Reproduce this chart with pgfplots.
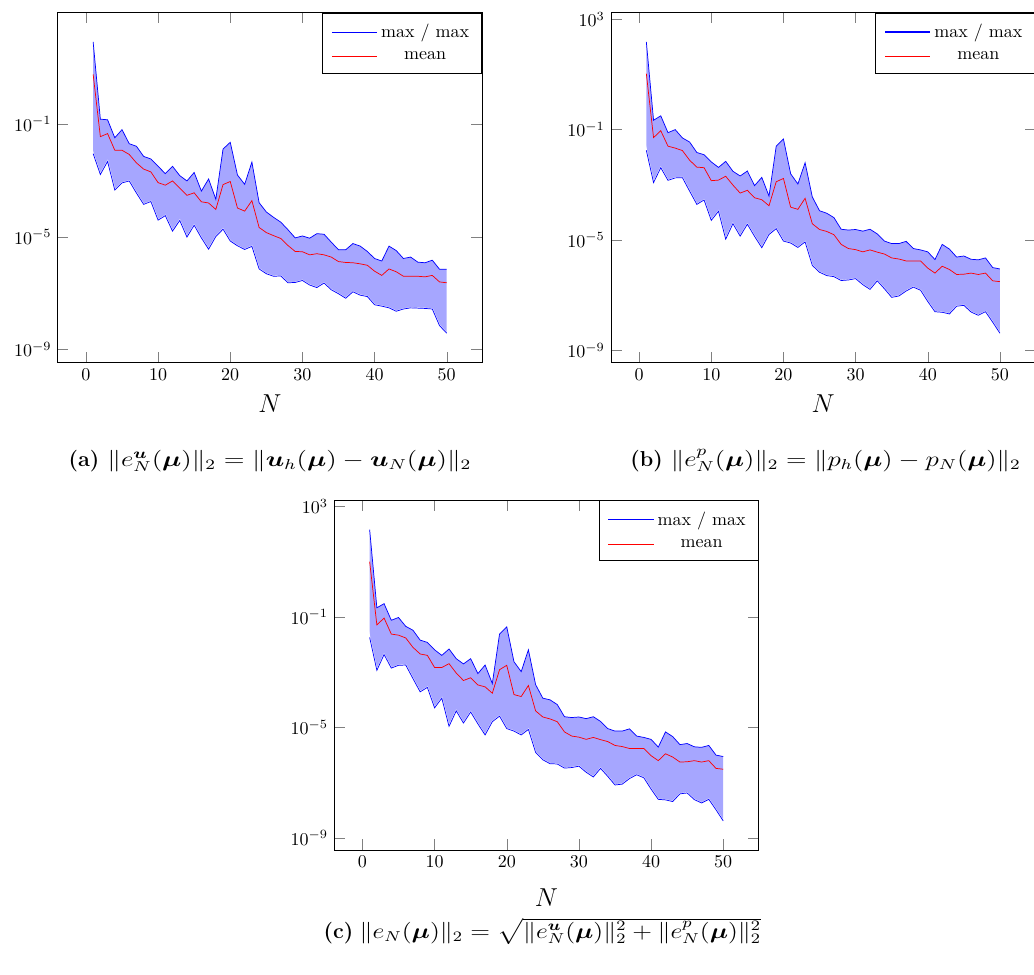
\documentclass[border=0pt]{standalone}
\usepackage{graphicx}
\usepackage{pgfplots}
\pgfplotsset{compat=1.18}
\usepackage{pgfplotstable}
\usepackage{amsmath}
\usepackage{bm}

\pgfplotstableread{
n up mean lo
1 8.13e1 5.75e0 8.91e-3
2 1.48e-1 3.55e-2 1.62e-3
3 1.41e-1 4.57e-2 4.68e-3
4 3.24e-2 1.17e-2 4.57e-4
5 6.31e-2 1.17e-2 8.13e-4
6 2.00e-2 8.32e-3 9.55e-4
7 1.62e-2 4.17e-3 3.55e-4
8 7.08e-3 2.51e-3 1.41e-4
9 5.75e-3 2.00e-3 1.78e-4
10 3.16e-3 8.32e-4 3.89e-5
11 1.74e-3 6.76e-4 5.62e-5
12 3.16e-3 9.55e-4 1.58e-5
13 1.48e-3 5.37e-4 3.80e-5
14 9.55e-4 2.95e-4 9.77e-6
15 1.91e-3 3.63e-4 2.57e-5
16 4.17e-4 1.74e-4 9.12e-6
17 1.12e-3 1.58e-4 3.63e-6
18 2.14e-4 9.33e-5 1.02e-5
19 1.29e-2 7.08e-4 1.86e-5
20 2.24e-2 9.12e-4 7.08e-6
21 1.55e-3 1.05e-4 4.79e-6
22 7.24e-4 8.13e-5 3.55e-6
23 4.47e-3 1.91e-4 4.57e-6
24 1.62e-4 2.14e-5 7.24e-7
25 7.59e-5 1.41e-5 4.90e-7
26 4.90e-5 1.10e-5 3.98e-7
27 3.31e-5 8.71e-6 4.07e-7
28 1.78e-5 4.90e-6 2.34e-7
29 9.12e-6 3.02e-6 2.40e-7
30 1.07e-5 2.95e-6 2.82e-7
31 8.91e-6 2.29e-6 1.95e-7
32 1.29e-5 2.51e-6 1.58e-7
33 1.23e-5 2.29e-6 2.29e-7
34 6.46e-6 1.91e-6 1.32e-7
35 3.47e-6 1.32e-6 9.55e-8
36 3.47e-6 1.23e-6 6.61e-8
37 5.75e-6 1.20e-6 1.12e-7
38 4.68e-6 1.10e-6 8.51e-8
39 3.02e-6 9.77e-7 7.59e-8
40 1.70e-6 6.03e-7 3.89e-8
41 1.38e-6 4.27e-7 3.47e-8
42 4.68e-6 7.24e-7 3.02e-8
43 3.24e-6 5.75e-7 2.29e-8
44 1.70e-6 3.98e-7 2.75e-8
45 1.91e-6 3.98e-7 3.02e-8
46 1.26e-6 3.98e-7 2.95e-8
47 1.20e-6 3.80e-7 2.88e-8
48 1.48e-6 4.27e-7 2.75e-8
49 7.08e-7 2.51e-7 7.08e-9
50 7.08e-7 2.34e-7 3.80e-9
}\tabA

\pgfplotstableread{
n up mean lo
1 1.51e2 1.07e1 1.78e-2
2 2.19e-1 5.13e-2 1.20e-3
3 3.16e-1 9.12e-2 4.17e-3
4 7.76e-2 2.51e-2 1.45e-3
5 1.00e-1 2.14e-2 1.78e-3
6 5.01e-2 1.74e-2 1.82e-3
7 3.55e-2 7.76e-3 5.89e-4
8 1.48e-2 4.37e-3 1.95e-4
9 1.23e-2 4.17e-3 2.82e-4
10 6.76e-3 1.41e-3 5.13e-5
11 4.27e-3 1.48e-3 1.10e-4
12 7.08e-3 2.04e-3 1.07e-5
13 3.09e-3 9.77e-4 3.89e-5
14 2.09e-3 5.01e-4 1.38e-5
15 3.16e-3 6.31e-4 3.72e-5
16 9.33e-4 3.39e-4 1.35e-5
17 1.86e-3 2.88e-4 5.25e-6
18 3.89e-4 1.74e-4 1.58e-5
19 2.51e-2 1.29e-3 2.57e-5
20 4.57e-2 1.70e-3 9.12e-6
21 2.51e-3 1.55e-4 7.76e-6
22 1.07e-3 1.29e-4 5.37e-6
23 6.31e-3 3.24e-4 8.51e-6
24 3.63e-4 3.89e-5 1.20e-6
25 1.15e-4 2.40e-5 6.76e-7
26 9.33e-5 2.04e-5 5.13e-7
27 6.46e-5 1.55e-5 4.68e-7
28 2.45e-5 6.92e-6 3.39e-7
29 2.29e-5 4.90e-6 3.55e-7
30 2.40e-5 4.47e-6 3.98e-7
31 2.09e-5 3.72e-6 2.40e-7
32 2.45e-5 4.37e-6 1.62e-7
33 1.66e-5 3.63e-6 3.31e-7
34 9.12e-6 3.09e-6 1.70e-7
35 7.41e-6 2.24e-6 8.32e-8
36 7.41e-6 2.04e-6 9.33e-8
37 8.91e-6 1.74e-6 1.41e-7
38 4.90e-6 1.74e-6 1.95e-7
39 4.37e-6 1.74e-6 1.51e-7
40 3.72e-6 9.55e-7 5.89e-8
41 1.95e-6 6.31e-7 2.51e-8
42 6.92e-6 1.12e-6 2.40e-8
43 4.68e-6 8.51e-7 2.09e-8
44 2.40e-6 5.62e-7 3.98e-8
45 2.63e-6 5.75e-7 4.27e-8
46 2.00e-6 6.31e-7 2.45e-8
47 1.91e-6 5.62e-7 1.86e-8
48 2.24e-6 6.31e-7 2.51e-8
49 1.00e-6 3.31e-7 1.05e-8
50 8.91e-7 3.09e-7 4.17e-9
}\tabB

\pgfplotstableread{
n up mean lo
1 1.45e2 1.00e1 1.82e-2
2 2.14e-1 5.13e-2 1.17e-3
3 3.02e-1 9.12e-2 4.37e-3
4 7.59e-2 2.40e-2 1.41e-3
5 9.55e-2 2.19e-2 1.78e-3
6 4.57e-2 1.74e-2 1.82e-3
7 3.31e-2 7.94e-3 5.89e-4
8 1.45e-2 4.57e-3 1.95e-4
9 1.20e-2 4.07e-3 2.82e-4
10 6.46e-3 1.48e-3 5.13e-5
11 4.07e-3 1.48e-3 1.15e-4
12 6.92e-3 2.04e-3 1.10e-5
13 3.09e-3 9.33e-4 3.98e-5
14 2.00e-3 5.01e-4 1.45e-5
15 3.09e-3 6.31e-4 3.63e-5
16 8.91e-4 3.47e-4 1.35e-5
17 1.82e-3 2.95e-4 5.37e-6
18 3.89e-4 1.74e-4 1.62e-5
19 2.40e-2 1.23e-3 2.57e-5
20 4.37e-2 1.78e-3 9.12e-6
21 2.40e-3 1.55e-4 7.41e-6
22 1.05e-3 1.32e-4 5.37e-6
23 6.46e-3 3.31e-4 8.51e-6
24 3.55e-4 3.98e-5 1.26e-6
25 1.15e-4 2.40e-5 6.76e-7
26 1.00e-4 2.04e-5 4.90e-7
27 6.76e-5 1.62e-5 4.79e-7
28 2.45e-5 6.92e-6 3.39e-7
29 2.29e-5 4.90e-6 3.55e-7
30 2.40e-5 4.47e-6 3.98e-7
31 2.09e-5 3.72e-6 2.40e-7
32 2.45e-5 4.37e-6 1.62e-7
33 1.66e-5 3.63e-6 3.31e-7
34 9.12e-6 3.09e-6 1.70e-7
35 7.41e-6 2.24e-6 8.32e-8
36 7.41e-6 2.04e-6 8.91e-8
37 8.91e-6 1.74e-6 1.41e-7
38 4.90e-6 1.74e-6 1.95e-7
39 4.37e-6 1.74e-6 1.51e-7
40 3.72e-6 9.55e-7 5.89e-8
41 1.95e-6 6.31e-7 2.51e-8
42 6.92e-6 1.12e-6 2.40e-8
43 4.68e-6 8.51e-7 2.09e-8
44 2.40e-6 5.62e-7 3.98e-8
45 2.63e-6 5.75e-7 4.27e-8
46 2.00e-6 6.31e-7 2.45e-8
47 1.91e-6 5.62e-7 1.86e-8
48 2.24e-6 6.31e-7 2.51e-8
49 1.00e-6 3.31e-7 1.05e-8
50 8.91e-7 3.09e-7 4.17e-9
}\tabC

\begin{document}
\begin{tikzpicture}
\path[use as bounding box] (0pt,0pt) rectangle (574.4pt,541.1pt);

\begin{axis}[at={(32.1pt,339.8pt)}, anchor=south west,
    scale only axis, width=235.7pt, height=194.2pt,
    ymode=log, log origin y=infty, axis on top,
    xtick={0,10,20,30,40,50},
    ytick={1e-9,1e-5,1e-1,1e3},
    major tick length=5.9pt,
    tick style={black!50},
    xlabel={$N$},
    xlabel style={font=\Large, at={(axis description cs:0.5,0)}, anchor=center, yshift=-23pt},
    legend cell align=center,
    legend style={at={(1,1)}, anchor=north east, inner xsep=5pt, inner ysep=4pt, row sep=2.3pt},
    legend image code/.code={\draw[#1, line width=0.6pt] (0pt,0pt) -- (25pt,0pt);}]
  \addplot[fill=blue!35, draw=none, forget plot] table[x=n,y=up] {\tabA} \closedcycle;
  \addplot[fill=white, draw=white, line width=0.8pt, forget plot] table[x=n,y=lo] {\tabA} \closedcycle;
  \addplot[blue] table[x=n,y=up] {\tabA};
  \addplot[red] table[x=n,y=mean] {\tabA};
  \addplot[blue, forget plot] table[x=n,y=lo] {\tabA};
  \legend{max / max, mean}
\end{axis}

\begin{axis}[at={(339.4pt,339.8pt)}, anchor=south west,
    scale only axis, width=235.7pt, height=194.2pt,
    ymode=log, log origin y=infty, axis on top,
    xtick={0,10,20,30,40,50},
    ytick={1e-9,1e-5,1e-1,1e3},
    major tick length=5.9pt,
    tick style={black!50},
    xlabel={$N$},
    xlabel style={font=\Large, at={(axis description cs:0.5,0)}, anchor=center, yshift=-23pt},
    legend cell align=center,
    legend style={at={(1,1)}, anchor=north east, inner xsep=5pt, inner ysep=4pt, row sep=2.3pt},
    legend image code/.code={\draw[#1, line width=0.6pt] (0pt,0pt) -- (25pt,0pt);}]
  \addplot[fill=blue!35, draw=none, forget plot] table[x=n,y=up] {\tabB} \closedcycle;
  \addplot[fill=white, draw=white, line width=0.8pt, forget plot] table[x=n,y=lo] {\tabB} \closedcycle;
  \addplot[blue] table[x=n,y=up] {\tabB};
  \addplot[red] table[x=n,y=mean] {\tabB};
  \addplot[blue, forget plot] table[x=n,y=lo] {\tabB};
  \legend{max / max, mean}
\end{axis}

\begin{axis}[at={(185.7pt,68.9pt)}, anchor=south west,
    scale only axis, width=235.7pt, height=194.2pt,
    ymode=log, log origin y=infty, axis on top,
    xtick={0,10,20,30,40,50},
    ytick={1e-9,1e-5,1e-1,1e3},
    major tick length=5.9pt,
    tick style={black!50},
    xlabel={$N$},
    xlabel style={font=\Large, at={(axis description cs:0.5,0)}, anchor=center, yshift=-26.5pt},
    legend cell align=center,
    legend style={at={(1,1)}, anchor=north east, inner xsep=5pt, inner ysep=4pt, row sep=2.3pt},
    legend image code/.code={\draw[#1, line width=0.6pt] (0pt,0pt) -- (25pt,0pt);}]
  \addplot[fill=blue!35, draw=none, forget plot] table[x=n,y=up] {\tabC} \closedcycle;
  \addplot[fill=white, draw=white, line width=0.8pt, forget plot] table[x=n,y=lo] {\tabC} \closedcycle;
  \addplot[blue] table[x=n,y=up] {\tabC};
  \addplot[red] table[x=n,y=mean] {\tabC};
  \addplot[blue, forget plot] table[x=n,y=lo] {\tabC};
  \legend{max / max, mean}
\end{axis}

\node[anchor=base west, inner sep=0pt, font=\large] at (37.9pt,282.2pt)
  {\textbf{(a)}\hspace{4.5pt}\resizebox{202.2pt}{\height}{$\|e_N^{\bm{u}}(\bm{\mu})\|_2 = \|\bm{u}_h(\bm{\mu}) - \bm{u}_N(\bm{\mu})\|_2$}};
\node[anchor=base west, inner sep=0pt, font=\large] at (350pt,282.2pt)
  {\textbf{(b)}\hspace{4.5pt}\resizebox{194.4pt}{\height}{$\|e_N^{p}(\bm{\mu})\|_2 = \|p_h(\bm{\mu}) - p_N(\bm{\mu})\|_2$}};
\node[anchor=base west, inner sep=0pt, font=\large] at (179.6pt,20.0pt)
  {\textbf{(c)}\hspace{3.5pt}\resizebox{223pt}{\height}{$\|e_N(\bm{\mu})\|_2 = \sqrt{\|e_N^{\bm{u}}(\bm{\mu})\|_2^2 + \|e_N^{p}(\bm{\mu})\|_2^2}$}};
\end{tikzpicture}
\end{document}
